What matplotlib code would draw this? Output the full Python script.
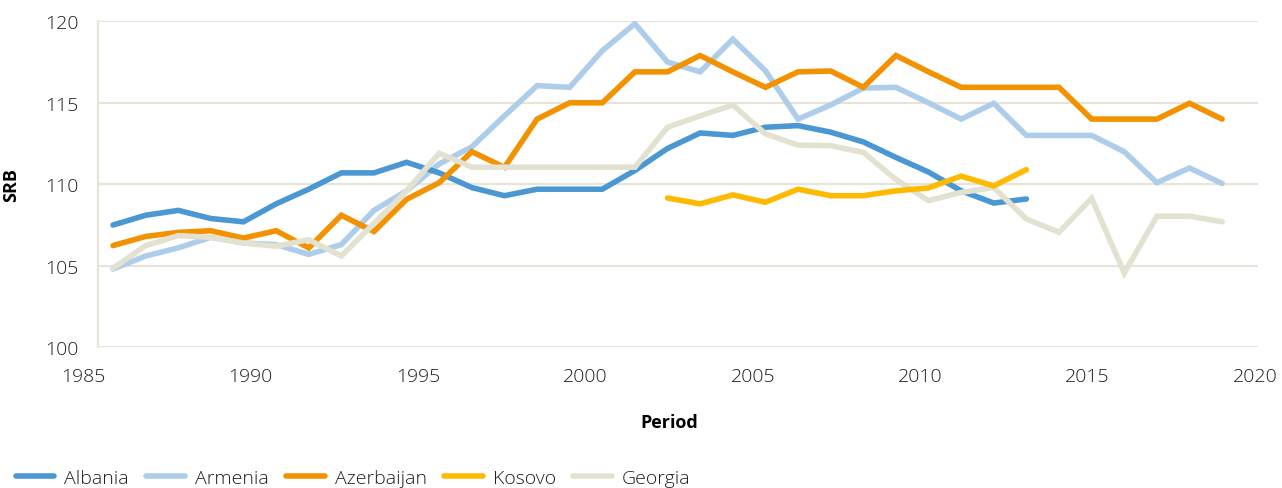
import matplotlib
matplotlib.use("Agg")
import matplotlib.pyplot as plt
import numpy as np

years = list(range(1985, 2020))

albania = [107.5, 108.1, 108.4, 107.9, 107.7, 108.8, 109.7, 110.7, 110.7, 111.35,
           110.7, 109.8, 109.3, 109.7, 109.7, 109.7, 110.85, 112.2, 113.15, 113.0,
           113.5, 113.6, 113.2, 112.6, 111.65, 110.75, 109.6, 108.85, 109.1]
armenia = [104.8, 105.6, 106.1, 106.75, 106.4, 106.3, 105.7, 106.3, 108.4, 109.6,
           111.25, 112.3, 114.2, 116.05, 115.95, 118.2, 119.85, 117.5, 116.9, 118.9,
           116.97, 114.0, 114.87, 115.9, 115.95, 115.0, 114.0, 114.97, 113.0, 113.0,
           113.0, 112.0, 110.1, 111.0, 110.05]
azerbaijan = [106.24, 106.8, 107.05, 107.15, 106.7, 107.15, 106.1, 108.1, 107.1, 109.08,
              110.1, 112.0, 111.04, 114.0, 115.0, 115.0, 116.9, 116.9, 117.9, 116.9,
              115.95, 116.9, 116.95, 115.95, 117.9, 116.9, 115.95, 115.95, 115.95, 115.95,
              114.0, 114.0, 114.0, 114.97, 114.0]
kosovo_years = list(range(2002, 2014))
kosovo = [109.16, 108.8, 109.35, 108.9, 109.7, 109.3, 109.3, 109.6, 109.78, 110.5, 109.9, 110.9]
georgia = [104.85, 106.24, 106.85, 106.75, 106.4, 106.2, 106.6, 105.6, 107.6, 109.6,
           111.9, 111.05, 111.05, 111.05, 111.05, 111.05, 111.05, 113.5, 114.2, 114.87,
           113.1, 112.4, 112.37, 111.96, 110.3, 109.0, 109.5, 109.8, 107.87, 107.06,
           109.14, 104.56, 108.04, 108.04, 107.7]

names = ["Albania", "Armenia", "Azerbaijan", "Kosovo", "Georgia"]
colors = ["#4A97D2", "#AECDEA", "#F39200", "#FDBA00", "#E3E2D1"]

label_years = list(range(1985, 2021, 5))
y_ticks = [100, 105, 110, 115, 120]

W, H = 1282, 489
fig = plt.figure(figsize=(W / 100, H / 100), dpi=100)
plt.rcParams['font.family'] = ['Open Sans', 'DejaVu Sans']
txt_c = "#1e1e1e"
light = 'light'

left_px, right_px, top_px, bot_px = 98, 1258, 22.3, 348.3
ax = fig.add_axes([left_px / W, 1 - bot_px / H, (right_px - left_px) / W, (bot_px - top_px) / H])

grid_c = "#E6E4D4"
series = [(years[:len(albania)], albania), (years, armenia), (years, azerbaijan),
          (kosovo_years, kosovo), (years, georgia)]
z = {1: 2, 0: 3, 2: 4, 4: 5, 3: 6}
for i in [1, 4, 0, 3, 2]:
    xs, ys = series[i]
    ax.plot(xs, ys, color=colors[i], lw=4.0, solid_capstyle='round', solid_joinstyle='miter',
            label=names[i], zorder=z[i])
ax.set_ylim(100, 120)
ax.set_xlim(1984.54, 2020.10)
ax.set_yticks(y_ticks)
ax.yaxis.grid(True, color=grid_c, lw=1.5)
ax.set_axisbelow(True)
for s in ["top", "right", "bottom"]:
    ax.spines[s].set_visible(False)
ax.spines["left"].set_color(grid_c)
ax.spines["left"].set_linewidth(1.5)
ax.tick_params(axis='y', length=0, pad=14, labelsize=14, labelcolor=txt_c)
for t in ax.get_yticklabels():
    t.set_fontweight(light)
ax.tick_params(axis='x', length=0, labelbottom=False)
ax.set_ylabel("SRB", fontsize=13, fontweight='bold')
ax.yaxis.set_label_coords(-(98 - 20) / (right_px - left_px), 0.5)

# label axis for years
lab_l, lab_r = 83, 1255
ax2 = fig.add_axes([lab_l / W, 1 - bot_px / H, (lab_r - lab_l) / W, (bot_px - top_px) / H])
ax2.patch.set_visible(False)
ax2.set_xlim(1985, 2020)
ax2.set_xticks(label_years)
ax2.set_yticks([])
for s in ax2.spines.values():
    s.set_visible(False)
ax2.tick_params(axis='x', length=0, pad=14, labelsize=14, labelcolor=txt_c)
for t in ax2.get_xticklabels():
    t.set_fontweight(light)
ax2.set_xlabel("Period", fontsize=13, fontweight='bold', labelpad=20)

handles, labels = ax.get_legend_handles_labels()
hmap = dict(zip(labels, handles))
leg = fig.legend([hmap[n] for n in names], names, loc='lower left',
                 bbox_to_anchor=(-2 / W, -0.034), ncol=5, frameon=False, fontsize=14,
                 handlelength=2.0, handletextpad=0.5, columnspacing=0.9)
for t in leg.get_texts():
    t.set_color(txt_c)
    t.set_fontweight(light)

fig.savefig("out.png", dpi=100)
